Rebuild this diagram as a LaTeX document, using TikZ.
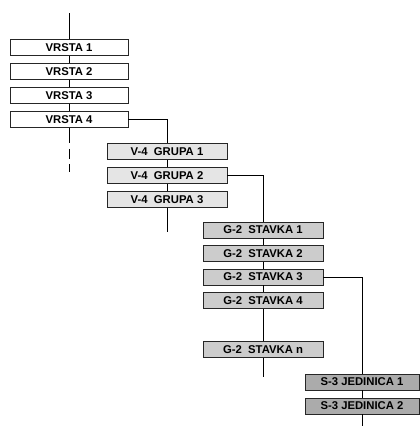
\documentclass[tikz,border=0pt]{standalone}
\usepackage{fontspec}
\setmainfont{Liberation Sans}
\begin{document}
\begin{tikzpicture}[x=1pt,y=-1pt,
  box/.style={draw=black!85,line width=0.9pt,minimum height=16pt,inner sep=0pt,
    font=\bfseries\fontsize{11.3}{13}\selectfont},
  vbox/.style={box,fill=white,minimum width=118pt},
  gbox/.style={box,fill=black!10,minimum width=120pt},
  sbox/.style={box,fill=black!20,minimum width=120pt},
  jbox/.style={box,fill=black!33,minimum width=114pt},
  conn/.style={draw=black,line width=0.7pt}]
\useasboundingbox (0,0) rectangle (420,426);
% column 1
\node[vbox] (v1) at (69,47.5) {VRSTA 1};
\node[vbox] (v2) at (69,71.5) {VRSTA 2};
\node[vbox] (v3) at (69,95.5) {VRSTA 3};
\node[vbox] (v4) at (69,119.5) {VRSTA 4};
\coordinate (vtop) at (69,13);
\coordinate (vend) at (69,173);
\draw[conn] (vtop) -- (v1.north);
\draw[conn] (v1) -- (v2);
\draw[conn] (v2) -- (v3);
\draw[conn] (v3) -- (v4);
\draw[conn,dash pattern=on 15pt off 6pt on 10pt off 5pt on 8pt off 20pt] (v4.south) -- (vend);
% column 2
\node[gbox] (g1) at (167,151.5) {V-4\ \ GRUPA 1};
\node[gbox] (g2) at (167,175.5) {V-4\ \ GRUPA 2};
\node[gbox] (g3) at (167,199.5) {V-4\ \ GRUPA 3};
\coordinate (gend) at (167,232);
\draw[conn] (v4.east) -| (g1.north);
\draw[conn] (g1) -- (g2);
\draw[conn] (g2) -- (g3);
\draw[conn] (g3.south) -- (gend);
% column 3
\node[sbox] (s1) at (263,230) {G-2\ \ STAVKA 1};
\node[sbox] (s2) at (263,253.5) {G-2\ \ STAVKA 2};
\node[sbox] (s3) at (263,277) {G-2\ \ STAVKA 3};
\node[sbox] (s4) at (263,300.5) {G-2\ \ STAVKA 4};
\node[sbox] (sn) at (263,349.5) {G-2\ \ STAVKA n};
\coordinate (send) at (263,377);
\draw[conn] (g2.east) -| (s1.north);
\draw[conn] (s1) -- (s2);
\draw[conn] (s2) -- (s3);
\draw[conn] (s3) -- (s4);
\draw[conn] (s4) -- (sn);
\draw[conn] (sn.south) -- (send);
% column 4
\node[jbox] (j1) at (362,382) {S-3 JEDINICA 1};
\node[jbox] (j2) at (362,406) {S-3 JEDINICA 2};
\coordinate (jend) at (362,426);
\draw[conn] (s3.east) -| (j1.north);
\draw[conn] (j1) -- (j2);
\draw[conn] (j2.south) -- (jend);
\end{tikzpicture}
\end{document}
